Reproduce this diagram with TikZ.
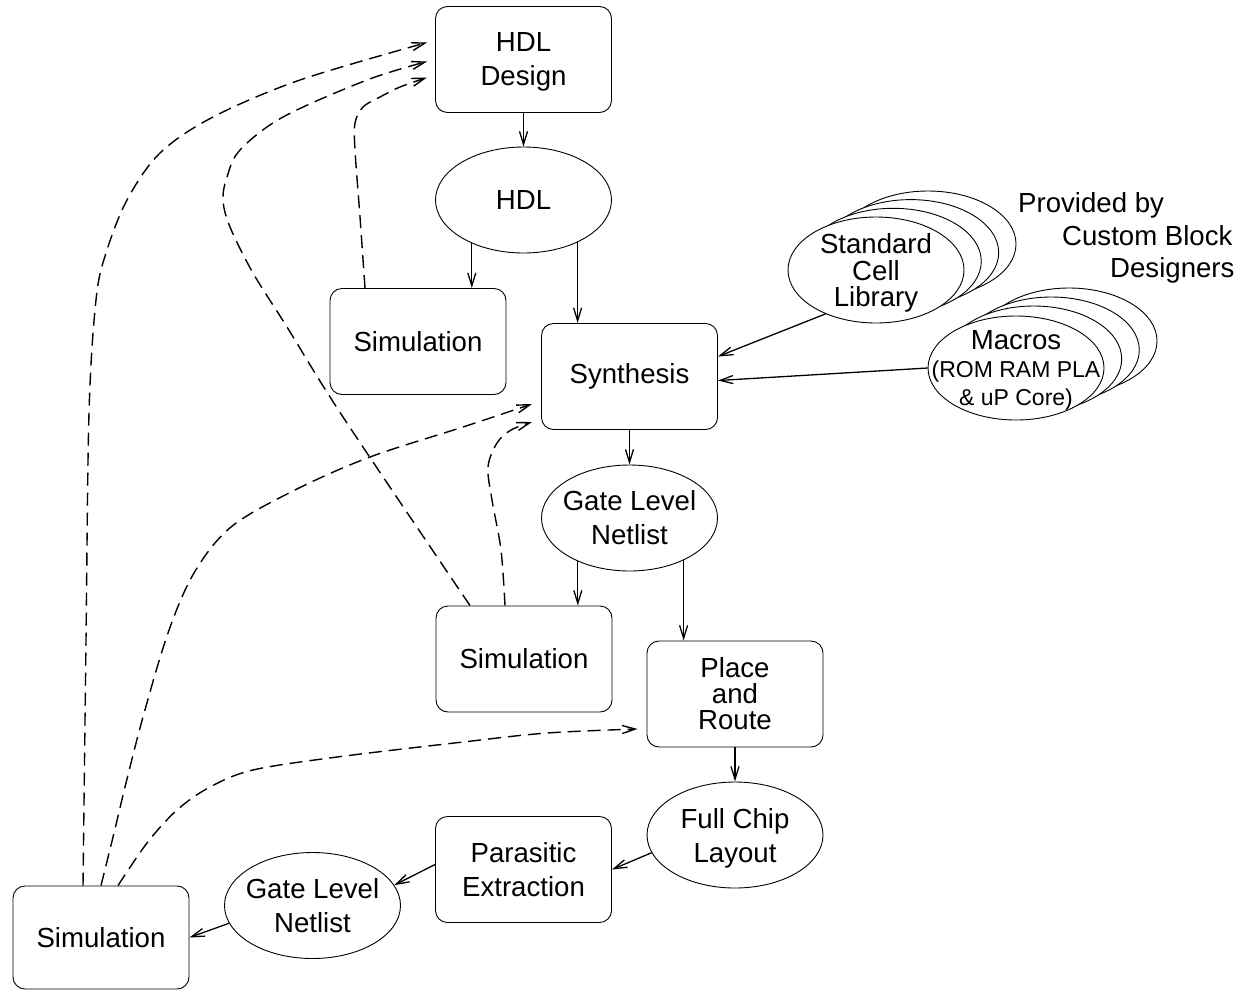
\documentclass[tikz,border=0pt]{standalone}
\usepackage{fontspec}
\setmainfont{Liberation Sans}
\usetikzlibrary{arrows.meta,shapes.geometric}

% a line whose descenders do not count when the text block is centred
\newcommand{\nodepth}[1]{\raisebox{0pt}[\height][0pt]{#1}}

\begin{document}
\begin{tikzpicture}[x=1pt,y=-1pt,
  box/.style={draw, line width=0.9pt, rounded corners=12pt, minimum width=176pt,
    minimum height=106pt, inner sep=0pt, align=center,
    font=\fontsize{27.6}{34}\selectfont},
  oval/.style={draw, line width=0.9pt, ellipse, minimum width=176pt,
    minimum height=106pt, inner sep=0pt},
  layer/.style={oval, fill=white},
  txt/.style={align=center, inner sep=0pt, font=\fontsize{27.6}{34}\selectfont},
  tight/.style={txt, font=\fontsize{27.6}{26.5}\selectfont},
  flow/.style={line width=1.3pt, -{Straight Barb[length=13pt,width=8pt]}},
  fb/.style={flow, line width=1.4pt, dash pattern=on 13pt off 7pt},
]
\useasboundingbox (0,0) rectangle (1241,991);

% ---- main flow ----
\node[box] (hdld) at (523.5,59.5) {HDL\\\nodepth{Design}};
\node[oval] (hdl) at (523.5,200) {};
\node[txt] (hdl-t) at (hdl) {HDL};
\node[box] (sim1) at (418,341.5) {Simulation};
\node[box] (syn) at (629.5,376.5) {Synthesis};
\node[oval] (gln) at (629.5,518) {};
\node[txt] (gln-t) at (gln) {Gate Level\\Netlist};
\node[box] (sim2) at (524,659) {Simulation};
\node[box, font=\fontsize{27.6}{26}\selectfont] (pr) at (735,694) {Place\\and\\Route};
\node[oval] (fcl) at (735,835) {};
\node[txt] (fcl-t) at (fcl) {Full Chip\\\nodepth{Layout}};
\node[box] (pe) at (523.5,869.5) {Parasitic\\Extraction};
\node[oval] (gln2) at (312.5,905.5) {};
\node[txt] (gln2-t) at (gln2) {Gate Level\\Netlist};
\node[box, minimum height=103pt] (sim3) at (101,937.5) {Simulation};

% ---- stacked libraries ----
\node[layer] (scl3) at (928,244) {};
\node[layer] (scl2) at (910.7,252.6) {};
\node[layer] (scl1) at (893.3,261.3) {};
\node[layer] (scl) at (876,270) {};
\node[tight] (scl-t) at (scl) {Standard\\Cell\\\nodepth{Library}};

\node[layer] (mac3) at (1069,341) {};
\node[layer] (mac2) at (1051.3,350) {};
\node[layer] (mac1) at (1033.7,359) {};
\node[layer, minimum height=104pt] (mac) at (1016,368) {};
\node[tight, font=\fontsize{23}{28}\selectfont] (mac-t) at (1016,368)
  {{\fontsize{27.6}{28}\selectfont Macros}\\(ROM RAM PLA\\\nodepth{\& uP Core)}};

\node[anchor=base west, inner sep=0pt, font=\fontsize{27.6}{33}\selectfont] (pb1) at (1018,212) {Provided by};
\node[anchor=base west, inner sep=0pt, font=\fontsize{27.6}{33}\selectfont] (pb2) at (1062,245) {Custom Block};
\node[anchor=base west, inner sep=0pt, font=\fontsize{27.6}{33}\selectfont] (pb3) at (1110,277) {Designers};

% ---- solid connectors ----
\draw[flow] (hdld.south) -- (hdl.north);
\draw[flow] (hdl.220) -- (hdl.220 |- sim1.north);
\draw[flow] (hdl.-38) -- (hdl.-38 |- syn.north);
\draw[flow] (syn.south) -- (gln.north);
\draw[flow] (gln.220) -- (gln.220 |- sim2.north);
\draw[flow] (gln.-38) -- (gln.-38 |- pr.north);
\draw[flow] (pr.south) -- (fcl.north);
\draw[flow] (fcl.192) -- (pe.east);
\draw[flow] ([yshift=5pt]pe.west) -- (gln2.14);
\draw[flow] (gln2.192) -- (sim3.east);
\draw[flow] (scl.221) -- ([yshift=20pt]syn.east);
\draw[flow] (mac.west) -- ([yshift=-4pt]syn.east);

% ---- feedback (dashed) connectors ----
\coordinate (a0) at ([xshift=-18pt]sim3.north);
\coordinate (d0) at (sim3.north);
\coordinate (f0) at ([xshift=17pt]sim3.north);
\coordinate (b0) at ([xshift=-54pt]sim2.north);
\coordinate (e0) at ([xshift=-19pt]sim2.north);
\coordinate (c0) at ([xshift=-53pt]sim1.north);
\coordinate (a1) at ([xshift=-8pt,yshift=17pt]hdld.west);
\coordinate (b1) at ([xshift=-8pt,yshift=-2pt]hdld.west);
\coordinate (c1) at ([xshift=-8pt,yshift=-18pt]hdld.west);
\coordinate (d1) at ([xshift=-9pt,yshift=-27.5pt]syn.west);
\coordinate (e1) at ([xshift=-9pt,yshift=-45.5pt]syn.west);
\coordinate (f1) at ([xshift=-9pt,yshift=-35pt]pr.west);

\draw[fb] plot[smooth, tension=0.55] coordinates
  {(a0) (86,640) (89,413) (96,300) (106,253) (127,200) (160,153) (213,117) (300,80) (a1)};
\draw[fb] plot[smooth, tension=0.55] coordinates
  {(b0) (343,417) (287,327) (253,273) (230,227) (223,200) (227,177) (240,150) (283,117) (367,80) (b1)};
\draw[fb] plot[smooth, tension=0.55] coordinates
  {(c0) (360,217) (355,150) (355,123) (363,107) (380,97) (400,87) (c1)};
\draw[fb] plot[smooth, tension=0.55] coordinates
  {(d0) (114,833) (126,783) (143,717) (168,633) (194,573) (231,527) (295,490) (370,457) (463,427) (d1)};
\draw[fb] plot[smooth, tension=0.55] coordinates
  {(e0) (501,550) (492,500) (488,467) (497,443) (511,430) (e1)};
\draw[fb] plot[smooth, tension=0.55] coordinates
  {(f0) (147,843) (177,810) (210,787) (253,770) (337,757) (463,742) (547,733) (f1)};
\end{tikzpicture}
\end{document}
